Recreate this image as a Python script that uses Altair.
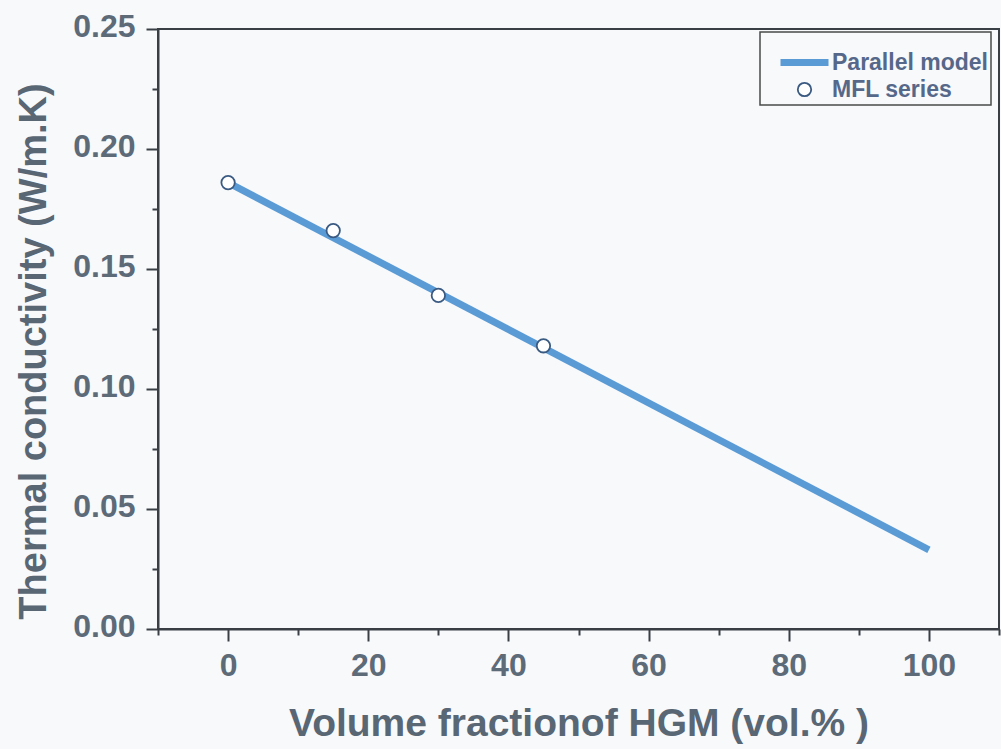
import altair as alt
import pandas as pd

series_names = ["Parallel model", "MFL series"]
line_x = [0, 100]
line_y = [0.186, 0.033]
mfl_x = [0, 15, 30, 45]
mfl_y = [0.186, 0.166, 0.139, 0.118]
x_major = [0, 20, 40, 60, 80, 100]
x_minor = [-10, 10, 30, 50, 70, 90, 110]
y_major = [0.0, 0.05, 0.10, 0.15, 0.20, 0.25]
y_minor = [0.025, 0.075, 0.125, 0.175, 0.225]

line_df = pd.DataFrame({"x": line_x, "y": line_y, "series": series_names[0]})
pts_df = pd.DataFrame({"x": mfl_x, "y": mfl_y, "series": series_names[1]})

FONT = "Liberation Sans"
LABEL_C = "#5d6a78"
TITLE_C = "#596674"
AX_C = "#3a3f45"

xs = alt.Scale(domain=[-10, 110], nice=False, zero=False)
ys = alt.Scale(domain=[0, 0.25], nice=False, zero=False)
color_scale = alt.Scale(domain=series_names, range=["#5b9bd5", "#3a5a82"])
shape_scale = alt.Scale(domain=series_names, range=["stroke", "circle"])
sw_scale = alt.Scale(domain=series_names, range=[7, 1.8])
size_scale = alt.Scale(domain=series_names, range=[2304, 180])

leg = alt.Legend(title=None)

line = alt.Chart(line_df).mark_line(strokeCap="butt").encode(
    x=alt.X("x:Q", scale=xs, axis=alt.Axis(
        values=x_major, format="d", tickSize=12, labelPadding=9,
        labelFontSize=32, labelColor=LABEL_C, labelFont=FONT,
        labelFontWeight="bold",
        title="Volume fractionof HGM (vol.% )", titleFontSize=39,
        titleFont=FONT, titleFontWeight="bold", titleColor=TITLE_C,
        titleY=106, titleBaseline="alphabetic", orient="bottom")),
    y=alt.Y("y:Q", scale=ys, axis=alt.Axis(
        values=y_major, format=".2f", tickSize=12, labelPadding=11,
        labelFontSize=32, labelColor=LABEL_C, labelFont=FONT,
        labelFontWeight="bold",
        labelBaseline="middle", labelOffset=-3,
        title="Thermal conductivity (W/m.K)", titleFontSize=38,
        titleFont=FONT, titleFontWeight="bold", titleColor=TITLE_C,
        titleAngle=270, titleX=-113, titleY=322, titleAlign="center",
        titleBaseline="alphabetic", orient="left")),
    color=alt.Color("series:N", scale=color_scale, legend=leg),
    strokeWidth=alt.StrokeWidth("series:N", scale=sw_scale, legend=leg),
)

points = alt.Chart(pts_df).mark_point(filled=False, fill="white", opacity=1).encode(
    x=alt.X("x:Q", scale=xs, axis=alt.Axis(
        values=x_minor, tickSize=6, labels=False, domain=False,
        title="", orient="bottom")),
    y=alt.Y("y:Q", scale=ys, axis=alt.Axis(
        values=y_minor, tickSize=6, labels=False, domain=False,
        title="", orient="left")),
    color=alt.Color("series:N", scale=color_scale, legend=leg),
    shape=alt.Shape("series:N", scale=shape_scale, legend=leg),
    size=alt.Size("series:N", scale=size_scale, legend=leg),
    strokeWidth=alt.StrokeWidth("series:N", scale=sw_scale, legend=leg),
)

chart = alt.layer(line, points).resolve_axis(
    x="independent", y="independent"
).properties(
    width=841,
    height=600,
    autosize=alt.AutoSizeParams(type="none"),
    padding={"left": 158, "top": 29, "right": 2, "bottom": 120},
    background="#f7f9fb",
).configure_view(
    stroke=AX_C, strokeWidth=2
).configure_axis(
    grid=False, domainColor=AX_C, domainWidth=2, tickColor=AX_C, tickWidth=2,
).configure_legend(
    orient="none", legendX=602, legendY=3,
    strokeColor="#4a4a4a", strokeWidth=1.5, fillColor="#f7f9fb",
    padding=3, symbolOffset=14, rowPadding=1, labelOffset=0,
    labelFont=FONT, labelFontSize=23, labelFontWeight="bold",
    labelColor="#56688a",
)

chart.save("out.html", embed_options={"renderer": "svg", "actions": False})
